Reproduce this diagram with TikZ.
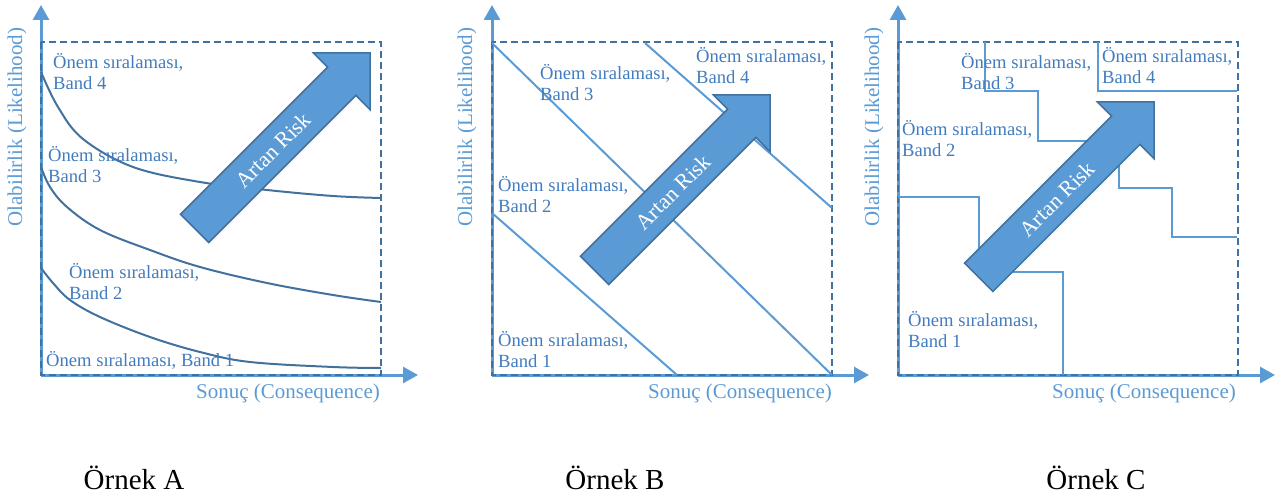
\documentclass[tikz,border=0pt]{standalone}
\usepackage{fontspec}
\setmainfont{Liberation Serif}
\usetikzlibrary{arrows.meta,positioning,calc}
\definecolor{axisblue}{RGB}{91,155,213}
\definecolor{darkblue}{RGB}{65,113,156}
\definecolor{labelblue}{RGB}{66,124,190}

\begin{document}
\begin{tikzpicture}[x=1pt,y=-1pt,>={Triangle[length=15pt,width=16pt]}]
  \tikzset{axis/.style={draw=axisblue,line width=3pt,->},
    frame/.style={draw=darkblue,line width=2pt,dash pattern=on 7pt off 4pt},
    band/.style={draw=axisblue,line width=2pt},
    curve/.style={draw=darkblue,line width=2pt},
    lbl/.style={text=labelblue,font=\fontsize{18.6}{21}\selectfont,align=left,anchor=west,inner sep=0pt},
    axlbl/.style={text=axisblue,font=\fontsize{21}{24}\selectfont,inner sep=0pt},
    caption/.style={font=\fontsize{29}{32}\selectfont,inner sep=0pt},
    risk/.style={fill=axisblue,draw=darkblue,line width=1.5pt,line join=miter},
    risktext/.style={text=white,font=\fontsize{22}{24}\selectfont,rotate=45,inner sep=0pt},
    riskarrow/.pic={
      \path[risk] (0,0) -- (0,56.6) -- (-14.1,42.4) -- (-161.2,189.5) -- (-189.5,161.2)
        -- (-42.4,14.1) -- (-56.6,0) -- cycle;
      \node[risktext] (-txt) at (-97,97) {Artan Risk};}}
  \useasboundingbox (0,0) rectangle (1277,497);

  % axes and frames
  \foreach \x in {41,492,898} {
    \draw[axis] (\x,375) -- (\x,5);
    \draw[axis] (\x,375) -- ++(377,0);
    \draw[frame] (\x,42) rectangle ++(340,333);
  }

  % Örnek A
  \draw[curve] plot[smooth,tension=.6] coordinates {(41,72) (58,107) (83,139) (133,167) (200,182) (267,190) (333,196) (381,198)};
  \draw[curve] plot[smooth,tension=.6] coordinates {(41,167) (50,187) (67,207) (100,230) (150,250) (200,267) (267,283) (333,295) (381,302)};
  \draw[curve] plot[smooth,tension=.6] coordinates {(41,268) (53,283) (70,300) (100,317) (150,337) (200,352) (250,362) (333,367) (381,368)};
  \node[lbl] (a4) at (53,72) {Önem sıralaması,\\Band 4};
  \node[lbl] (a3) at (48,165) {Önem sıralaması,\\Band 3};
  \node[lbl] (a2) at (69,282) {Önem sıralaması,\\Band 2};
  \node[lbl] (a1) at (46,360) {Önem sıralaması, Band 1};
  \pic (ra) at (370,53) {riskarrow};
  \node[axlbl,rotate=90] (ya) at (17,127) {Olabilirlik (Likelihood)};
  \node[axlbl] (xa) at (288,393) {Sonuç (Consequence)};
  \node[caption] (na) at (134,478) {Örnek A};

  % Örnek B
  \draw[band] (492,213) -- (677,375);
  \draw[band] (492,43) -- (832,375);
  \draw[band] (645,43) -- (832,208);
  \node[lbl] (b4) at (696,66) {Önem sıralaması,\\Band 4};
  \node[lbl] (b3) at (540,83) {Önem sıralaması,\\Band 3};
  \node[lbl] (b2) at (498,195) {Önem sıralaması,\\Band 2};
  \node[lbl] (b1) at (498,350) {Önem sıralaması,\\Band 1};
  \pic (rb) at (770,95) {riskarrow};
  \node[axlbl,rotate=90] (yb) at (467,127) {Olabilirlik (Likelihood)};
  \node[axlbl] (xb) at (740,393) {Sonuç (Consequence)};
  \node[caption] (nb) at (615,478) {Örnek B};

  % Örnek C
  \draw[band] (898,197) -| (979,272) -| (1063,375);
  \draw[band] (985,42) |- (1038,91) |- (1119,141) |- (1172,188) |- (1237,237);
  \draw[band] (1098,42) |- (1237,91);
  \node[lbl] (c4) at (1102,66) {Önem sıralaması,\\Band 4};
  \node[lbl] (c3) at (961,72) {Önem sıralaması,\\Band 3};
  \node[lbl] (c2) at (902,139) {Önem sıralaması,\\Band 2};
  \node[lbl] (c1) at (908,330) {Önem sıralaması,\\Band 1};
  \pic (rc) at (1154,102) {riskarrow};
  \node[axlbl,rotate=90] (yc) at (874,127) {Olabilirlik (Likelihood)};
  \node[axlbl] (xc) at (1144,393) {Sonuç (Consequence)};
  \node[caption] (nc) at (1096,478) {Örnek C};
\end{tikzpicture}
\end{document}
